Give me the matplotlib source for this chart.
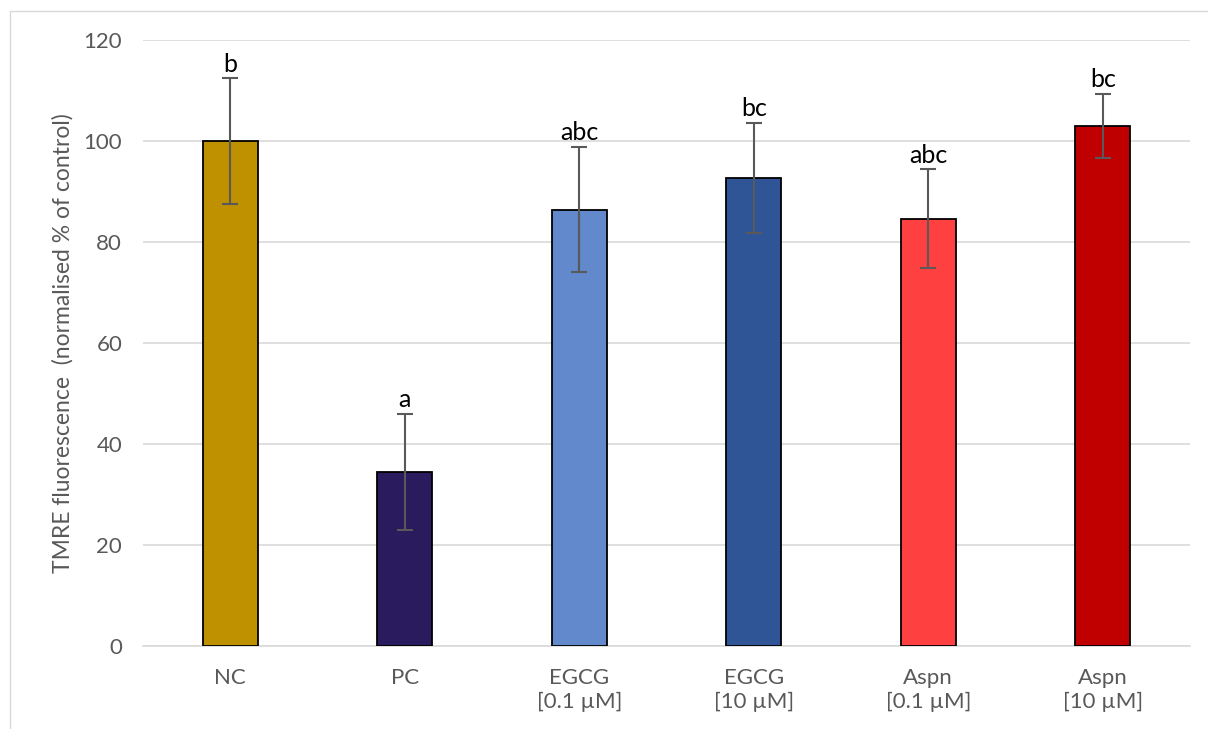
import matplotlib
matplotlib.use("Agg")
import matplotlib.pyplot as plt
from matplotlib.patches import Rectangle

categories = ["NC", "PC", "EGCG\n[0.1 µM]", "EGCG\n[10 µM]", "Aspn\n[0.1 µM]", "Aspn\n[10 µM]"]
means = [100.0, 34.5, 86.4, 92.7, 84.6, 103.0]
errors = [12.4, 11.5, 12.4, 10.9, 9.8, 6.4]
letters = ["b", "a", "abc", "bc", "abc", "bc"]
colors = ["#BF9000", "#2A1A5E", "#6289CC", "#2F5597", "#FF4040", "#C00000"]
yticks = [0, 20, 40, 60, 80, 100, 120]

plt.rcParams["font.family"] = ["Lato", "DejaVu Sans"]

fig = plt.figure(figsize=(12.08, 7.29), dpi=100)
# outer chart frame
fig.patches.append(Rectangle((10 / 1208, -0.1), 1.2, 1 - 11 / 729 + 0.1,
                             transform=fig.transFigure, fill=False,
                             edgecolor="#D9D9D9", linewidth=1.0))

ax = fig.add_axes([143 / 1208, 1 - 646 / 729, (1190 - 143) / 1208, (646 - 40) / 729])

x = list(range(len(categories)))
ax.bar(x, means, width=0.315, color=colors, edgecolor="black", linewidth=1.3, zorder=3)
ax.errorbar(x, means, yerr=errors, fmt="none", ecolor="#595959", elinewidth=1.5,
            capsize=6, capthick=1.5, zorder=4)

for xi, m, e, lab in zip(x, means, errors, letters):
    ax.annotate(lab, (xi, m + e), xytext=(0, 2), textcoords="offset points",
                ha="center", va="bottom", fontsize=18, color="black")

ax.set_xlim(-0.5, len(categories) - 0.5)
ax.set_ylim(0, 120)
ax.set_yticks(yticks)
ax.set_xticks(x)
ax.set_xticklabels(categories, fontsize=16, color="#595959", linespacing=1.25)
ax.tick_params(axis="y", labelsize=16, labelcolor="#595959", length=0, pad=15)
ax.tick_params(axis="x", length=0, pad=16)
ax.grid(axis="y", color="#D9D9D9", linewidth=1.2, zorder=0)
ax.set_axisbelow(True)
for side in ["top", "right", "left"]:
    ax.spines[side].set_visible(False)
ax.spines["bottom"].set_color("#D9D9D9")
ax.spines["bottom"].set_linewidth(1.2)

ax.set_ylabel("TMRE fluorescence  (normalised % of control)", fontsize=16.5,
              color="#595959", labelpad=7)

fig.savefig("out.png", dpi=100)
